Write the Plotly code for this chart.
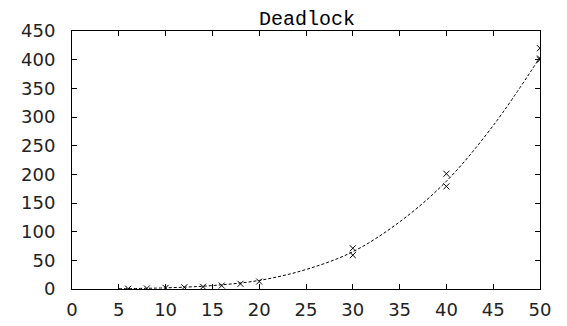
import plotly.graph_objects as go

# measured points
pts_x = [6, 8, 10, 12, 14, 16, 18, 20, 30, 30, 40, 40, 50, 50, 50]
pts_y = [0.5, 1, 2, 3, 4, 6, 9, 13, 71, 59, 201, 179, 420, 402, 400]

# fitted curve
fit_x = [5, 10, 15, 20, 25, 30, 35, 40, 45, 50]
fit_y = [0.5, 2, 6, 15, 34, 65, 117, 188, 285, 404]

x_ticks = [0, 5, 10, 15, 20, 25, 30, 35, 40, 45, 50]
y_ticks = [0, 50, 100, 150, 200, 250, 300, 350, 400, 450]

fig = go.Figure()
fig.add_trace(go.Scatter(x=fit_x, y=fit_y, mode="lines", line_shape="spline",
                         line=dict(color="black", width=1, dash="3px,2px"),
                         showlegend=False, hoverinfo="skip"))
fig.add_trace(go.Scatter(x=pts_x, y=pts_y, mode="markers",
                         marker=dict(symbol="x-thin", size=6, line=dict(color="black", width=1)),
                         showlegend=False))

axis_common = dict(showgrid=False, zeroline=False, showline=True, linecolor="black",
                   linewidth=1, mirror="ticks", ticks="inside", ticklen=5,
                   tickcolor="black", tickfont=dict(family="DejaVu Sans", size=18, color="#222"))

fig.update_xaxes(range=[0, 50], tickvals=x_ticks, ticktext=[str(v) for v in x_ticks],
                 ticklabelstandoff=4, **axis_common)
fig.update_yaxes(range=[0, 450], tickvals=y_ticks, ticktext=[str(v) for v in y_ticks],
                 ticklabelstandoff=12, **axis_common)

fig.update_layout(
    width=567, height=326,
    margin=dict(l=64, r=35, t=20, b=45),
    paper_bgcolor="white", plot_bgcolor="white",
    title=dict(text="Deadlock", x=(307 - 8) / 567, xanchor="center", y=0.99, yanchor="top",
               pad=dict(t=0, b=0),
               font=dict(family="Liberation Mono", size=20, color="black")),
)

fig.write_html("out.html")
